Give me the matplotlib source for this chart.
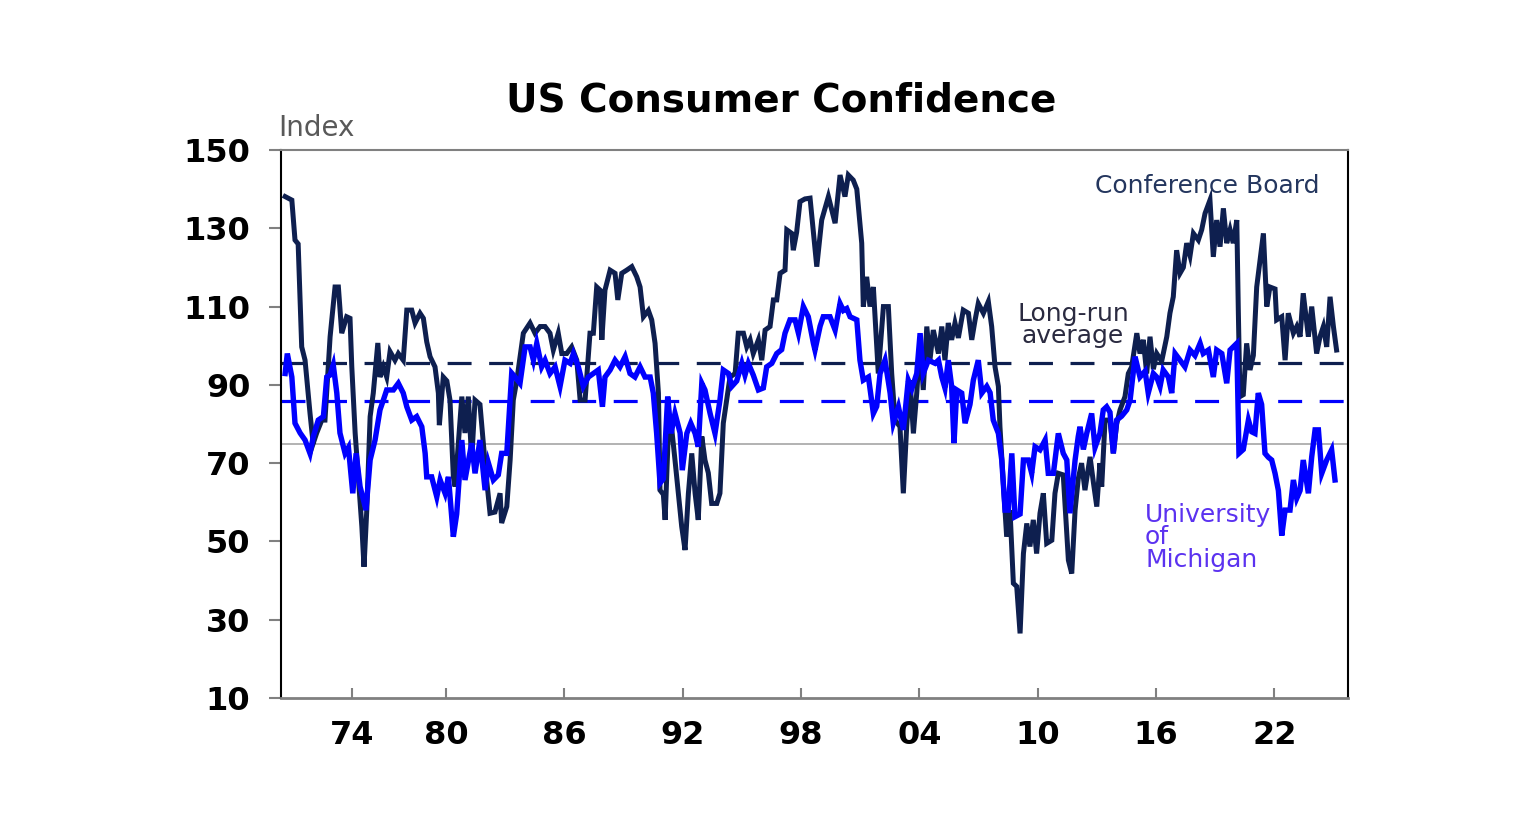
import matplotlib
matplotlib.use("Agg")
import matplotlib.pyplot as plt

# ---------------- data ----------------
cb_t = [1971.84, 1972.18, 1972.34, 1972.50, 1972.68, 1972.85, 1973.10, 1973.26, 1973.44, 1973.70,
        1973.86, 1974.12, 1974.37, 1974.54, 1974.71, 1974.96, 1975.13, 1975.22, 1975.39, 1975.55,
        1975.73, 1975.84, 1975.98, 1976.15, 1976.31, 1976.54, 1976.65, 1976.82, 1976.99, 1977.16,
        1977.41, 1977.58, 1977.83, 1978.01, 1978.26, 1978.43, 1978.68, 1978.85, 1979.02, 1979.19,
        1979.44, 1979.61, 1979.66, 1979.86, 1980.04, 1980.20, 1980.37, 1980.46, 1980.80, 1980.96,
        1981.13, 1981.30, 1981.47, 1981.72, 1981.89, 1982.06, 1982.23, 1982.48, 1982.74, 1982.82,
        1983.08, 1983.25, 1983.41, 1983.59, 1983.92, 1984.26, 1984.51, 1984.77, 1985.02, 1985.27,
        1985.44, 1985.69, 1985.87, 1986.12, 1986.37, 1986.63, 1986.80, 1987.05, 1987.30, 1987.47,
        1987.64, 1987.81, 1987.90, 1988.06, 1988.32, 1988.57, 1988.71, 1988.91, 1989.16, 1989.42,
        1989.67, 1989.84, 1990.01, 1990.26, 1990.43, 1990.60, 1990.77, 1990.85, 1991.02, 1991.11,
        1991.27, 1991.45, 1991.61, 1991.78, 1991.95, 1992.12, 1992.29, 1992.46, 1992.63, 1992.79,
        1992.97, 1993.13, 1993.30, 1993.47, 1993.73, 1993.89, 1994.06, 1994.23, 1994.40, 1994.66,
        1994.82, 1995.08, 1995.25, 1995.42, 1995.58, 1995.84, 1996.01, 1996.18, 1996.43, 1996.60,
        1996.77, 1996.94, 1997.19, 1997.28, 1997.53, 1997.61, 1997.78, 1997.95, 1998.20, 1998.46,
        1998.80, 1999.05, 1999.39, 1999.73, 1999.98, 2000.23, 2000.40, 2000.65, 2000.83, 2001.08,
        2001.16, 2001.33, 2001.50, 2001.67, 2001.92, 2002.18, 2002.43, 2002.60, 2002.77, 2003.02,
        2003.19, 2003.36, 2003.53, 2003.70, 2003.87, 2004.04, 2004.20, 2004.38, 2004.54, 2004.71,
        2004.97, 2005.14, 2005.30, 2005.47, 2005.64, 2005.81, 2005.98, 2006.23, 2006.49, 2006.66,
        2006.83, 2006.99, 2007.25, 2007.50, 2007.67, 2007.84, 2008.01, 2008.09, 2008.26, 2008.43,
        2008.60, 2008.77, 2008.94, 2009.11, 2009.28, 2009.45, 2009.61, 2009.78, 2009.95, 2010.12,
        2010.29, 2010.46, 2010.72, 2010.88, 2011.05, 2011.30, 2011.56, 2011.73, 2011.90, 2012.06,
        2012.23, 2012.40, 2012.66, 2012.83, 2013.00, 2013.16, 2013.25, 2013.42, 2013.67, 2013.84,
        2014.01, 2014.18, 2014.43, 2014.60, 2014.77, 2015.03, 2015.19, 2015.36, 2015.53, 2015.70,
        2015.87, 2016.04, 2016.29, 2016.55, 2016.71, 2016.88, 2017.05, 2017.22, 2017.39, 2017.56,
        2017.73, 2017.90, 2018.15, 2018.32, 2018.49, 2018.74, 2018.91, 2019.08, 2019.25, 2019.42,
        2019.59, 2019.76, 2019.92, 2020.10, 2020.18, 2020.26, 2020.43, 2020.60, 2020.77, 2020.94,
        2021.11, 2021.28, 2021.45, 2021.62, 2021.78, 2022.04, 2022.12, 2022.38, 2022.55, 2022.71,
        2022.97, 2023.14, 2023.31, 2023.47, 2023.73, 2023.90, 2024.15, 2024.32, 2024.49, 2024.66,
        2024.83, 2025.00, 2025.16]
cb_v = [138.1, 137.2, 127.0, 126.0, 99.7, 96.3, 82.8, 75.0, 77.7, 81.0,
        81.0, 102.3, 115.0, 115.0, 103.2, 107.4, 107.0, 94.6, 77.7, 66.5,
        53.8, 43.5, 58.0, 81.9, 87.9, 100.7, 92.0, 94.6, 92.0, 98.5,
        96.3, 98.0, 96.3, 109.1, 109.1, 105.8, 108.3, 107.0, 101.0, 97.2,
        94.6, 87.9, 79.7, 92.0, 91.0, 86.1, 66.5, 64.0, 87.0, 77.7,
        87.0, 70.8, 86.1, 85.0, 75.1, 65.7, 57.2, 57.5, 62.3, 54.7,
        58.9, 70.8, 86.1, 91.2, 103.2, 105.8, 103.2, 104.9, 104.9, 103.2,
        98.9, 103.2, 98.0, 98.0, 99.7, 96.3, 86.1, 86.1, 103.2, 103.2,
        115.0, 114.2, 101.5, 114.2, 119.3, 118.5, 111.7, 118.5, 119.3, 120.2,
        117.6, 115.0, 107.4, 109.0, 106.6, 100.6, 87.9, 63.1, 62.0, 55.5,
        77.6, 78.5, 70.8, 62.3, 53.8, 47.8, 62.3, 72.5, 62.3, 55.5,
        76.8, 70.8, 67.5, 59.7, 59.7, 62.3, 80.2, 86.1, 92.0, 92.9,
        103.2, 103.2, 99.7, 101.5, 98.0, 101.5, 96.3, 104.0, 104.9, 111.7,
        111.7, 118.5, 119.3, 129.6, 128.7, 124.4, 129.0, 136.8, 137.5, 137.7,
        120.2, 132.1, 138.1, 131.3, 143.6, 138.1, 143.6, 142.3, 140.0, 126.2,
        110.0, 117.6, 110.0, 115.0, 92.9, 110.0, 110.0, 92.9, 81.0, 79.3,
        62.3, 79.3, 91.2, 77.6, 87.9, 101.5, 88.7, 104.9, 96.3, 104.0,
        98.0, 104.9, 96.3, 105.8, 101.5, 105.8, 102.0, 109.1, 108.3, 101.5,
        106.6, 110.8, 108.3, 111.3, 104.9, 94.6, 89.6, 79.3, 64.9, 51.2,
        58.0, 39.3, 38.5, 26.5, 46.9, 54.6, 48.7, 55.5, 46.9, 57.2,
        62.3, 49.5, 50.3, 62.3, 67.4, 67.0, 45.2, 41.8, 58.0, 66.0,
        70.0, 63.1, 71.6, 65.0, 58.9, 70.0, 64.0, 81.0, 81.0, 72.5,
        80.0, 83.6, 87.0, 92.9, 94.6, 103.2, 98.0, 101.5, 92.9, 102.3,
        94.0, 98.0, 96.0, 102.3, 108.3, 112.5, 124.4, 118.5, 120.0, 126.2,
        123.0, 128.7, 127.0, 129.6, 133.8, 137.2, 122.7, 132.1, 125.3, 135.1,
        126.2, 129.6, 126.2, 132.1, 108.3, 87.0, 87.5, 100.6, 93.8, 97.5,
        115.0, 121.9, 128.7, 110.0, 115.0, 114.5, 106.6, 107.4, 96.3, 108.3,
        103.2, 104.9, 102.3, 113.4, 102.3, 110.0, 98.0, 102.3, 104.9, 99.7,
        112.5, 104.9, 98.9]

um_t = [1971.84, 1971.95, 1972.18, 1972.34, 1972.60, 1972.85, 1973.10, 1973.27, 1973.52, 1973.78,
        1973.95, 1974.12, 1974.28, 1974.46, 1974.62, 1974.88, 1975.05, 1975.27, 1975.44, 1975.64,
        1975.94, 1976.15, 1976.40, 1976.65, 1976.82, 1976.99, 1977.33, 1977.58, 1977.83, 1978.01,
        1978.26, 1978.51, 1978.77, 1978.94, 1979.02, 1979.27, 1979.53, 1979.70, 1979.95, 1980.12,
        1980.37, 1980.54, 1980.80, 1980.96, 1981.30, 1981.47, 1981.72, 1981.98, 1982.15, 1982.40,
        1982.65, 1982.82, 1983.08, 1983.33, 1983.50, 1983.75, 1984.01, 1984.26, 1984.43, 1984.60,
        1984.85, 1985.02, 1985.27, 1985.53, 1985.78, 1986.03, 1986.29, 1986.46, 1986.71, 1986.96,
        1987.22, 1987.47, 1987.72, 1987.93, 1988.06, 1988.32, 1988.57, 1988.82, 1989.08, 1989.33,
        1989.58, 1989.84, 1990.09, 1990.35, 1990.51, 1990.68, 1990.85, 1991.02, 1991.24, 1991.41,
        1991.61, 1991.87, 1991.98, 1992.21, 1992.41, 1992.63, 1992.79, 1992.97, 1993.13, 1993.39,
        1993.64, 1993.89, 1994.06, 1994.32, 1994.49, 1994.74, 1995.00, 1995.16, 1995.33, 1995.58,
        1995.84, 1996.09, 1996.26, 1996.52, 1996.77, 1997.02, 1997.19, 1997.44, 1997.70, 1997.87,
        1998.12, 1998.37, 1998.63, 1998.71, 1998.97, 1999.13, 1999.47, 1999.73, 1999.98, 2000.15,
        2000.32, 2000.49, 2000.83, 2000.99, 2001.16, 2001.42, 2001.67, 2001.84, 2002.01, 2002.26,
        2002.52, 2002.68, 2002.94, 2003.19, 2003.44, 2003.62, 2003.87, 2004.04, 2004.20, 2004.46,
        2004.80, 2004.97, 2005.14, 2005.30, 2005.47, 2005.64, 2005.76, 2005.90, 2006.15, 2006.32,
        2006.57, 2006.74, 2006.99, 2007.17, 2007.42, 2007.59, 2007.75, 2008.01, 2008.18, 2008.35,
        2008.51, 2008.69, 2008.85, 2009.11, 2009.28, 2009.53, 2009.70, 2009.87, 2010.12, 2010.38,
        2010.54, 2010.80, 2011.05, 2011.30, 2011.48, 2011.64, 2011.90, 2012.06, 2012.15, 2012.32,
        2012.49, 2012.74, 2012.91, 2013.16, 2013.33, 2013.50, 2013.67, 2013.84, 2014.01, 2014.26,
        2014.52, 2014.69, 2014.94, 2015.19, 2015.45, 2015.61, 2015.87, 2016.04, 2016.21, 2016.37,
        2016.63, 2016.80, 2016.97, 2017.22, 2017.47, 2017.73, 2017.98, 2018.24, 2018.40, 2018.66,
        2018.91, 2019.08, 2019.34, 2019.59, 2019.76, 2020.10, 2020.21, 2020.43, 2020.69, 2020.86,
        2021.02, 2021.19, 2021.36, 2021.53, 2021.70, 2021.87, 2022.04, 2022.21, 2022.38, 2022.55,
        2022.80, 2022.97, 2023.14, 2023.31, 2023.47, 2023.73, 2023.90, 2024.07, 2024.24, 2024.41,
        2024.66, 2024.91, 2025.08]
um_v = [92.9, 98.0, 92.0, 80.2, 77.7, 75.9, 72.5, 76.8, 81.0, 81.9,
        92.0, 92.5, 95.1, 87.9, 77.7, 72.5, 74.0, 62.3, 72.5, 64.0,
        58.0, 70.8, 75.9, 83.6, 86.1, 88.7, 88.7, 90.4, 87.9, 84.4,
        81.0, 81.9, 79.3, 72.5, 66.5, 66.5, 61.4, 65.7, 62.3, 66.5,
        51.2, 57.0, 75.9, 65.7, 75.1, 67.4, 75.9, 63.1, 70.0, 65.7,
        67.0, 72.5, 72.5, 93.0, 92.0, 90.4, 99.7, 99.7, 96.3, 100.6,
        94.6, 96.3, 92.9, 94.6, 89.6, 96.3, 95.5, 98.0, 94.6, 89.6,
        92.0, 92.9, 93.8, 84.4, 92.0, 93.8, 96.3, 94.6, 97.2, 92.9,
        92.0, 94.6, 92.0, 92.0, 87.9, 77.6, 64.9, 66.0, 87.0, 77.6,
        82.7, 77.7, 68.2, 77.6, 80.2, 77.6, 74.2, 90.4, 88.7, 82.7,
        77.6, 86.1, 93.8, 92.9, 89.6, 91.0, 95.5, 92.5, 95.5, 92.5,
        88.7, 89.2, 94.6, 95.5, 98.0, 99.0, 103.2, 106.6, 106.6, 103.2,
        110.0, 107.4, 100.6, 98.9, 105.0, 107.4, 107.4, 104.0, 110.8, 109.0,
        109.5, 107.4, 106.6, 96.3, 91.2, 92.0, 82.7, 84.5, 92.9, 96.3,
        87.9, 80.2, 84.4, 78.5, 91.2, 89.0, 92.9, 103.2, 92.9, 96.3,
        95.5, 96.3, 92.0, 89.2, 96.3, 89.6, 75.1, 88.7, 87.9, 80.2,
        85.0, 91.2, 96.3, 87.9, 89.6, 88.0, 81.0, 77.6, 70.8, 58.0,
        58.0, 72.5, 56.3, 57.0, 70.8, 70.8, 67.4, 74.2, 73.4, 75.9,
        67.4, 67.4, 77.6, 72.5, 70.8, 57.2, 70.8, 76.8, 79.3, 73.5,
        77.6, 82.7, 74.0, 77.6, 83.6, 84.4, 83.0, 72.5, 81.0, 82.0,
        83.6, 86.1, 97.2, 92.0, 93.5, 87.9, 92.9, 92.0, 89.6, 93.8,
        92.0, 87.9, 98.0, 96.3, 94.6, 98.9, 97.5, 100.6, 98.0, 98.9,
        92.0, 98.9, 98.0, 90.4, 98.9, 100.6, 72.5, 73.5, 81.0, 78.0,
        77.6, 87.9, 85.0, 72.5, 71.5, 70.8, 67.4, 63.0, 51.5, 58.0,
        58.0, 65.7, 61.0, 63.0, 70.8, 62.3, 71.6, 78.5, 78.5, 67.4,
        70.8, 73.4, 65.7]

cb_avg = 95.6
um_avg = 85.9
ref_level = 75.0

x_ticks = [1975.23, 1980, 1986, 1992, 1998, 2004, 2010, 2016, 2022]
x_labels = ["74", "80", "86", "92", "98", "04", "10", "16", "22"]
y_ticks = [10, 30, 50, 70, 90, 110, 130, 150]

# ---------------- styling ----------------
navy = "#0e1f4f"
blue = "#0000ff"
fig = plt.figure(figsize=(15.36, 8.24), dpi=100)
ax = fig.add_axes([281 / 1536, 1 - 698 / 824, (1348 - 281) / 1536, (698 - 150) / 824])

ax.axhline(ref_level, color="#a6a6a6", lw=1.2, zorder=1)
ax.axhline(cb_avg, color=navy, lw=2.3, dashes=(7.5, 5.5), zorder=2)
ax.axhline(um_avg, color=blue, lw=2.3, dashes=(7.5, 5.5), zorder=2)

ax.plot(cb_t, cb_v, color=navy, lw=3.6, solid_joinstyle="miter", zorder=3)
ax.plot(um_t, um_v, color=blue, lw=3.9, solid_joinstyle="miter", zorder=4)

ax.set_xlim(1971.63, 2025.74)
ax.set_ylim(10, 150)
ax.set_yticks(y_ticks)
ax.set_xticks(x_ticks)
ax.set_xticklabels(x_labels)

for lab in ax.get_yticklabels() + ax.get_xticklabels():
    lab.set_fontweight("bold")
    lab.set_fontsize(23)
    lab.set_color("black")

ax.tick_params(axis="y", direction="out", length=9, width=1.5, color="#808080", pad=13)
ax.tick_params(axis="x", direction="in", length=7, width=1.5, color="#808080", pad=16)

ax.spines["left"].set_color("black")
ax.spines["left"].set_linewidth(1.5)
ax.spines["right"].set_color("black")
ax.spines["right"].set_linewidth(1.5)
ax.spines["top"].set_color("#808080")
ax.spines["top"].set_linewidth(1.5)
ax.spines["bottom"].set_color("#808080")
ax.spines["bottom"].set_linewidth(2)

fig.text(781 / 1536, 1 - 100 / 824, "US Consumer Confidence", ha="center", va="center",
         fontsize=28, fontweight="bold", color="black")
fig.text(278 / 1536, 1 - 128 / 824, "Index", ha="left", va="center",
         fontsize=20, color="#595959")

ax.text(2018.59, 140.8, "Conference Board", ha="center", va="center",
        fontsize=18, color="#24365e")
ax.text(2011.8, 105.3, "Long-run\naverage", ha="center", va="center",
        fontsize=18, color="#2a2a40", linespacing=0.92)
ax.text(2015.45, 59.9, "University\nof\nMichigan", ha="left", va="top",
        fontsize=18, color="#5b32f0", linespacing=0.92)

fig.savefig("out.png", dpi=100, facecolor="white")
